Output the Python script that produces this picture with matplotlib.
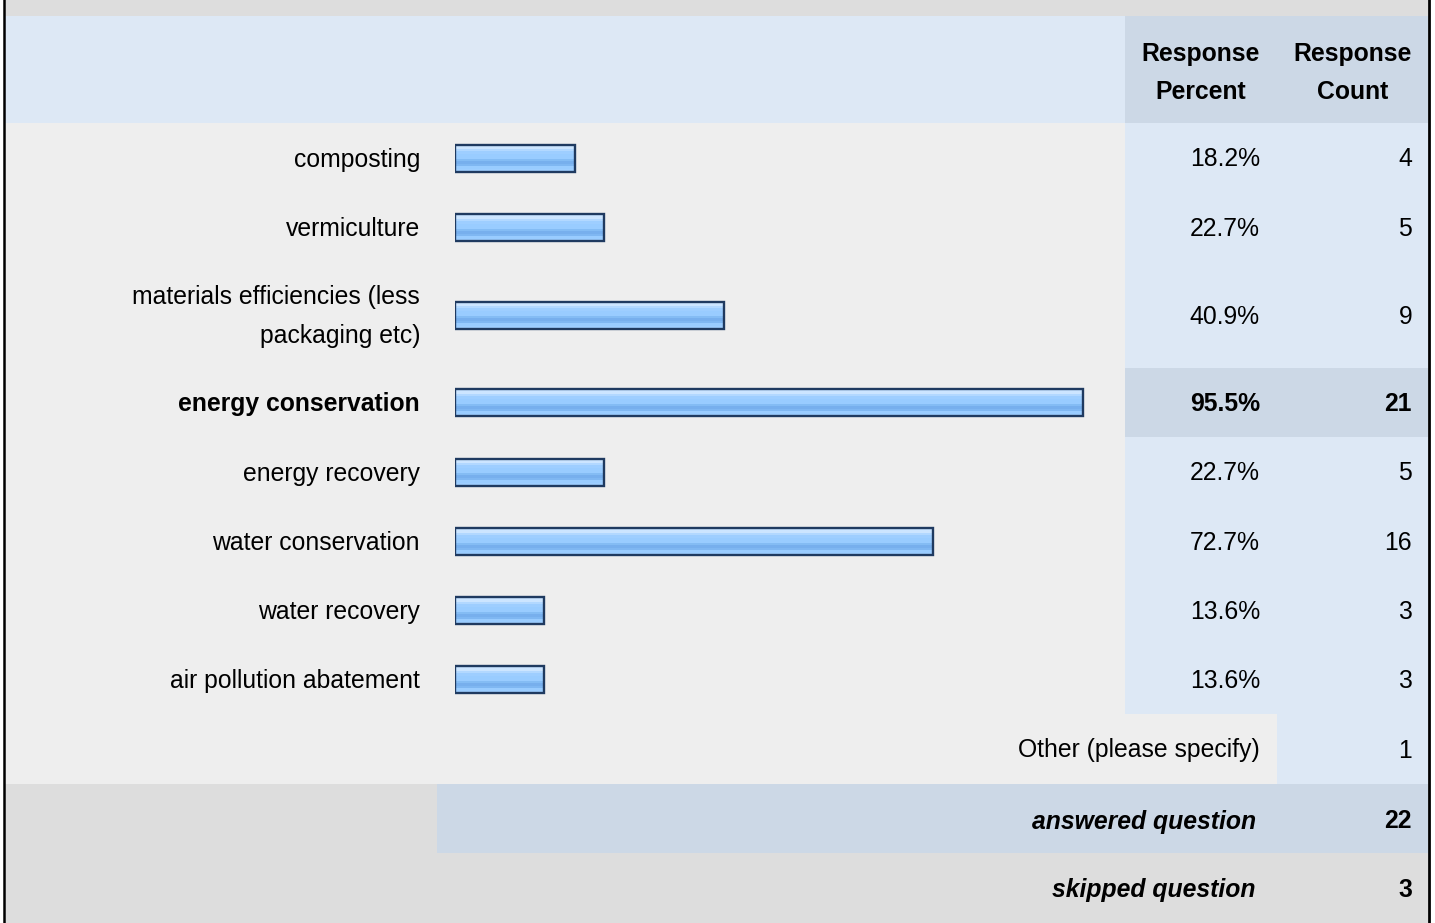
import numpy as np
import matplotlib.pyplot as plt
from matplotlib.patches import Rectangle

plt.rcParams["font.family"] = ["Liberation Sans", "DejaVu Sans"]

# survey data
categories = [
    "composting",
    "vermiculture",
    "materials efficiencies (less\npackaging etc)",
    "energy conservation",
    "energy recovery",
    "water conservation",
    "water recovery",
    "air pollution abatement",
]
percents = [18.2, 22.7, 40.9, 95.5, 22.7, 72.7, 13.6, 13.6]
counts = [4, 5, 9, 21, 5, 16, 3, 3]
highlight = "energy conservation"
other_label = "Other (please specify)"
other_count = 1
answered = 22
skipped = 3

W, H = 1435, 923
fig = plt.figure(figsize=(W / 100, H / 100), dpi=100)
fig.patch.set_facecolor("white")

# background axes in pixel coordinates
bg = fig.add_axes([0, 0, 1, 1])
bg.set_xlim(0, W)
bg.set_ylim(H, 0)
bg.axis("off")

LIGHT = "#eeeeee"
GREY = "#dddddd"
BLUE = "#dde8f5"
BLUE2 = "#ccd8e6"
X0, XB, XO, XR = 5, 1125, 1277, 1428
FS = 17.8


def box(x0, x1, y0, y1, c):
    bg.add_patch(Rectangle((x0, y0), x1 - x0, y1 - y0, facecolor=c, edgecolor="none", zorder=0))


# row layout
header_top, header_bot = 16, 123
row_h = [70, 69, 106, 69, 70, 69, 69, 69]
row_top = header_bot + np.concatenate([[0], np.cumsum(row_h)[:-1]])
row_ctr = row_top + np.array(row_h) / 2
rows_end = header_bot + sum(row_h)

box(X0, XR, 0, header_top, GREY)
box(X0, XB, header_top, header_bot, BLUE)
box(XB, XR, header_top, header_bot, BLUE2)
bg.text(1201, 73, "Response\nPercent", ha="center", va="center", fontsize=FS,
        fontweight="bold", linespacing=1.7)
bg.text(1353, 73, "Response\nCount", ha="center", va="center", fontsize=FS,
        fontweight="bold", linespacing=1.7)

for cat, pct, cnt, top, h, yc in zip(categories, percents, counts, row_top, row_h, row_ctr):
    hl = cat == highlight
    box(X0, XB, top, top + h, LIGHT)
    box(XB, XR, top, top + h, BLUE2 if hl else BLUE)
    w = "bold" if hl else "normal"
    ty = yc + 1.5
    bg.text(420, ty, cat, ha="right", va="center", fontsize=FS, fontweight=w,
            linespacing=1.75)
    bg.text(1260, ty, f"{pct:.1f}%", ha="right", va="center", fontsize=FS, fontweight=w)
    bg.text(1412, ty, str(cnt), ha="right", va="center", fontsize=FS, fontweight=w)

# other row
oy0, oy1 = rows_end, rows_end + 70
box(X0, XO, oy0, oy1, LIGHT)
box(XO, XR, oy0, oy1, BLUE)
bg.text(1260, (oy0 + oy1) / 2 + 1.5, other_label, ha="right", va="center", fontsize=FS)
bg.text(1412, (oy0 + oy1) / 2 + 1.5, str(other_count), ha="right", va="center", fontsize=FS)

# answered / skipped
ay0, ay1 = oy1, oy1 + 69
box(X0, 437, ay0, ay1, GREY)
box(437, XR, ay0, ay1, BLUE2)
bg.text(1256, (ay0 + ay1) / 2 + 3, "answered question", ha="right", va="center",
        fontsize=FS, fontweight="bold", style="italic")
bg.text(1412, (ay0 + ay1) / 2 + 3, str(answered), ha="right", va="center",
        fontsize=FS, fontweight="bold")
sy0, sy1 = ay1, H
box(X0, XR, sy0, sy1, GREY)
bg.text(1256, (sy0 + sy1) / 2 + 2, "skipped question", ha="right", va="center",
        fontsize=FS, fontweight="bold", style="italic")
bg.text(1412, (sy0 + sy1) / 2 + 2, str(skipped), ha="right", va="center",
        fontsize=FS, fontweight="bold")

# outer borders
bg.plot([4, 4], [0, H], color="black", lw=1.8, zorder=5)
bg.plot([1429, 1429], [0, H], color="black", lw=2.0, zorder=5)

# bar axes: x in percent, y in pixel rows
px_per_pct = 6.58
bx0 = 455
ax = fig.add_axes([bx0 / W, 0, 100 * px_per_pct / W, 1])
ax.set_xlim(0, 100)
ax.set_ylim(H, 0)
ax.axis("off")
ax.patch.set_alpha(0)

bar_h = 27
bars = ax.barh(row_ctr, percents, height=bar_h, color="#99ccff", edgecolor="none", zorder=1)
grad = np.array([
    [0.78, 0.89, 1.0], [0.80, 0.90, 1.0], [0.70, 0.85, 1.0], [0.62, 0.81, 1.0],
    [0.60, 0.80, 1.0], [0.60, 0.80, 1.0], [0.52, 0.74, 0.96], [0.47, 0.69, 0.93],
    [0.50, 0.72, 0.95], [0.60, 0.80, 1.0], [0.62, 0.81, 1.0],
])[:, None, :]
for b in bars:
    x, y = b.get_x(), b.get_y()
    im = ax.imshow(grad, extent=(x, x + b.get_width(), y + b.get_height(), y),
                   aspect="auto", interpolation="nearest", zorder=2)
    im.set_clip_path(b)
ax.barh(row_ctr, percents, height=bar_h, fill=False, edgecolor="#1f3a60", lw=1.7, zorder=3)
ax.set_xlim(0, 100)
ax.set_ylim(H, 0)

fig.savefig("out.png", dpi=100)
